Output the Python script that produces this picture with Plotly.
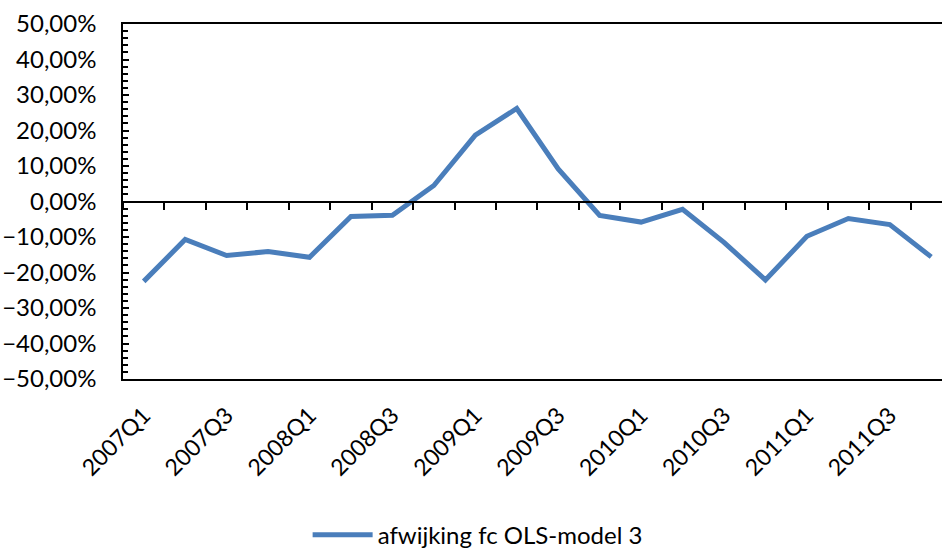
import plotly.graph_objects as go

quarters = ["2007Q1", "2007Q2", "2007Q3", "2007Q4",
            "2008Q1", "2008Q2", "2008Q3", "2008Q4",
            "2009Q1", "2009Q2", "2009Q3", "2009Q4",
            "2010Q1", "2010Q2", "2010Q3", "2010Q4",
            "2011Q1", "2011Q2", "2011Q3", "2011Q4"]
afwijking = [-0.225, -0.107, -0.152, -0.141,
             -0.157, -0.042, -0.039, 0.045,
             0.187, 0.262, 0.092, -0.039,
             -0.058, -0.022, -0.115, -0.221,
             -0.098, -0.048, -0.065, -0.156]
series_name = "afwijking fc OLS-model 3"
shown_labels = quarters[::2]
y_ticks = [-0.5, -0.4, -0.3, -0.2, -0.1, 0.0, 0.1, 0.2, 0.3, 0.4, 0.5]

FONT = "Lato, Carlito, 'Open Sans', sans-serif"

fig = go.Figure()
fig.add_trace(go.Scatter(
    x=quarters, y=afwijking, mode="lines", name=series_name,
    line=dict(color="#4A7EBB", width=5), showlegend=True,
))

fig.update_layout(
    width=942, height=550,
    margin=dict(l=123, r=0, t=24, b=171, autoexpand=False),
    paper_bgcolor="white", plot_bgcolor="white",
    separators=",.",
    font=dict(family=FONT, size=24, color="black"),
    showlegend=True,
    legend=dict(orientation="h", xref="paper", yref="paper",
                x=0.433, xanchor="center", y=-0.44, yanchor="middle",
                font=dict(size=24), itemwidth=60, bgcolor="rgba(0,0,0,0)"),
    xaxis=dict(
        type="category", categoryorder="array", categoryarray=quarters,
        range=[-0.5, 19.26],
        showline=True, linecolor="black", linewidth=1.5, mirror=True,
        ticks="", tickvals=shown_labels, tickangle=-45,
        tickfont=dict(size=23),
        ticklabelstandoff=12, automargin=False,
        showgrid=False, zeroline=False,
    ),
    xaxis2=dict(
        matches="x", overlaying="x", anchor="free", position=0.5,
        type="category", categoryorder="array", categoryarray=quarters,
        showline=True, linecolor="black", linewidth=1.5,
        ticks="outside", tickson="boundaries", ticklen=8, tickwidth=1.5,
        tickcolor="black", showticklabels=False, showgrid=False, zeroline=False,
        tickvals=quarters, automargin=False,
    ),
    yaxis=dict(
        range=[-0.5, 0.5], tickvals=y_ticks, tickformat=".2%",
        showline=True, linecolor="black", linewidth=1.5,
        ticks="inside", ticklen=6, tickwidth=1.5, tickcolor="black",
        minor=dict(ticks="inside", dtick=0.02, ticklen=5, tickwidth=1.5, tickcolor="black"),
        ticklabelstandoff=20, automargin=False,
        showgrid=False, zeroline=False,
    ),
)

# invisible trace so that the zero-line axis (xaxis2) is active
fig.add_trace(go.Scatter(x=quarters, y=afwijking, xaxis="x2", mode="lines",
                         line=dict(width=0), opacity=0, showlegend=False, hoverinfo="skip"))

fig.write_html("out.html", config={"displayModeBar": False},
               post_script="document.body.style.margin='0';")
